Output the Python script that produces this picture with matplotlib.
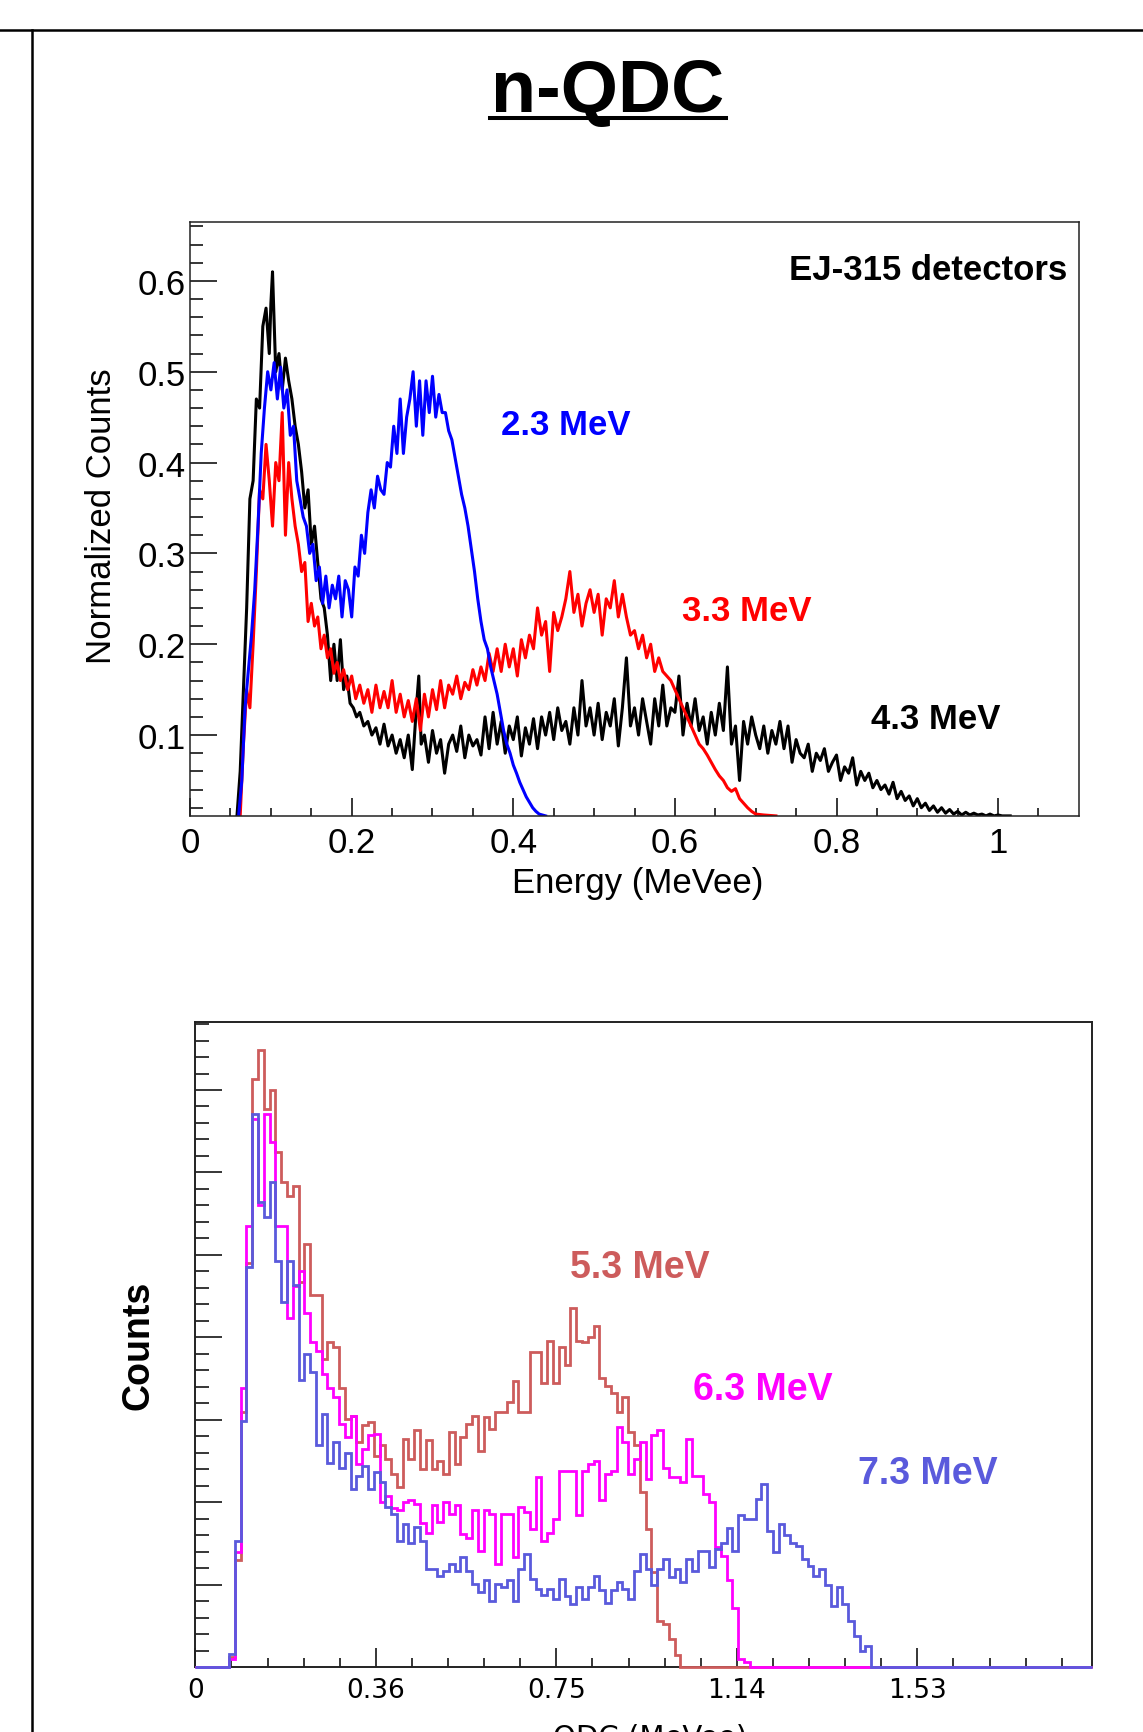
import numpy as np
import matplotlib
matplotlib.use("Agg")
import matplotlib.pyplot as plt
from matplotlib.lines import Line2D
from matplotlib.ticker import FixedLocator, FixedFormatter

# ---- top panel: normalized EJ-315 spectra (energy in MeVee) ----
blue_x = [0.060, 0.064, 0.068, 0.072, 0.076, 0.080, 0.084, 0.088, 0.092, 0.096,
          0.100, 0.104, 0.108, 0.112, 0.116, 0.120, 0.124, 0.128, 0.132, 0.136,
          0.140, 0.144, 0.148, 0.152, 0.156, 0.160, 0.164, 0.168, 0.172, 0.176,
          0.180, 0.184, 0.188, 0.192, 0.196, 0.200, 0.204, 0.208, 0.212, 0.216,
          0.220, 0.224, 0.228, 0.232, 0.236, 0.240, 0.244, 0.248, 0.252, 0.256,
          0.260, 0.264, 0.268, 0.272, 0.276, 0.280, 0.284, 0.288, 0.292, 0.296,
          0.300, 0.304, 0.308, 0.312, 0.316, 0.320, 0.324, 0.328, 0.332, 0.336,
          0.340, 0.344, 0.348, 0.352, 0.356, 0.360, 0.364, 0.368, 0.372, 0.376,
          0.380, 0.384, 0.388, 0.392, 0.396, 0.400, 0.404, 0.408, 0.412, 0.416,
          0.420, 0.424, 0.428, 0.432, 0.436, 0.440]
blue_y = [0.011, 0.05, 0.13, 0.17, 0.21, 0.26, 0.33, 0.41, 0.46, 0.50,
          0.48, 0.51, 0.47, 0.505, 0.46, 0.48, 0.43, 0.44, 0.38, 0.36,
          0.34, 0.33, 0.30, 0.31, 0.27, 0.285, 0.245, 0.275, 0.24, 0.265,
          0.25, 0.275, 0.23, 0.27, 0.26, 0.23, 0.285, 0.275, 0.32, 0.30,
          0.345, 0.37, 0.35, 0.385, 0.37, 0.365, 0.40, 0.395, 0.44, 0.41,
          0.47, 0.41, 0.45, 0.47, 0.50, 0.44, 0.49, 0.43, 0.49, 0.455,
          0.495, 0.45, 0.475, 0.455, 0.455, 0.435, 0.425, 0.405, 0.385, 0.365,
          0.35, 0.33, 0.305, 0.28, 0.25, 0.225, 0.205, 0.195, 0.175, 0.16,
          0.145, 0.125, 0.105, 0.09, 0.08, 0.067, 0.058, 0.048, 0.04, 0.032,
          0.026, 0.02, 0.016, 0.013, 0.012, 0.011]

red_x = [0.062, 0.066, 0.070, 0.074, 0.078, 0.082, 0.086, 0.090, 0.094, 0.098,
         0.102, 0.106, 0.110, 0.114, 0.118, 0.122, 0.126, 0.130, 0.134, 0.138,
         0.142, 0.146, 0.150, 0.154, 0.158, 0.162, 0.166, 0.170, 0.174, 0.178,
         0.182, 0.186, 0.190, 0.195, 0.200, 0.205, 0.210, 0.215, 0.220, 0.225,
         0.230, 0.235, 0.240, 0.245, 0.250, 0.255, 0.260, 0.265, 0.270, 0.275,
         0.280, 0.285, 0.290, 0.295, 0.300, 0.305, 0.310, 0.315, 0.320, 0.325,
         0.330, 0.335, 0.340, 0.345, 0.350, 0.355, 0.360, 0.365, 0.370, 0.375,
         0.380, 0.385, 0.390, 0.395, 0.400, 0.405, 0.410, 0.415, 0.420, 0.425,
         0.430, 0.435, 0.440, 0.445, 0.450, 0.455, 0.460, 0.465, 0.470, 0.475,
         0.480, 0.485, 0.490, 0.495, 0.500, 0.505, 0.510, 0.515, 0.520, 0.525,
         0.530, 0.535, 0.540, 0.545, 0.550, 0.555, 0.560, 0.565, 0.570, 0.575,
         0.580, 0.585, 0.590, 0.595, 0.600, 0.605, 0.610, 0.615, 0.620, 0.625,
         0.630, 0.635, 0.640, 0.645, 0.650, 0.655, 0.660, 0.665, 0.670, 0.675,
         0.680, 0.685, 0.690, 0.695, 0.700, 0.710, 0.725]
red_y = [0.011, 0.09, 0.15, 0.13, 0.20, 0.28, 0.37, 0.36, 0.42, 0.38,
         0.33, 0.40, 0.38, 0.455, 0.32, 0.40, 0.36, 0.33, 0.31, 0.28,
         0.29, 0.225, 0.245, 0.22, 0.23, 0.195, 0.21, 0.185, 0.195, 0.168,
         0.18, 0.16, 0.172, 0.15, 0.165, 0.14, 0.155, 0.135, 0.15, 0.125,
         0.155, 0.13, 0.148, 0.13, 0.16, 0.125, 0.145, 0.12, 0.138, 0.115,
         0.14, 0.105, 0.145, 0.12, 0.15, 0.128, 0.16, 0.13, 0.155, 0.145,
         0.165, 0.14, 0.158, 0.15, 0.172, 0.155, 0.175, 0.16, 0.19, 0.17,
         0.195, 0.17, 0.20, 0.175, 0.195, 0.165, 0.205, 0.185, 0.21, 0.195,
         0.24, 0.21, 0.225, 0.17, 0.235, 0.215, 0.23, 0.25, 0.28, 0.235,
         0.255, 0.22, 0.245, 0.26, 0.235, 0.255, 0.21, 0.25, 0.24, 0.27,
         0.23, 0.255, 0.23, 0.21, 0.215, 0.195, 0.21, 0.185, 0.20, 0.17,
         0.185, 0.17, 0.165, 0.16, 0.15, 0.14, 0.13, 0.12, 0.11, 0.10,
         0.09, 0.085, 0.078, 0.07, 0.062, 0.055, 0.05, 0.042, 0.038, 0.041,
         0.03, 0.025, 0.02, 0.016, 0.013, 0.012, 0.011]

black_x = [0.058, 0.062, 0.066, 0.070, 0.074, 0.078, 0.082, 0.086, 0.090, 0.094,
           0.098, 0.100, 0.102, 0.106, 0.110, 0.114, 0.118, 0.122, 0.126, 0.130,
           0.134, 0.138, 0.142, 0.146, 0.150, 0.154, 0.158, 0.162, 0.166, 0.170,
           0.174, 0.178, 0.182, 0.186, 0.190, 0.194, 0.198, 0.202, 0.206, 0.210,
           0.215, 0.220, 0.225, 0.230, 0.235, 0.240, 0.245, 0.250, 0.255, 0.260,
           0.265, 0.270, 0.275, 0.280, 0.283, 0.286, 0.290, 0.295, 0.300, 0.305,
           0.310, 0.315, 0.320, 0.325, 0.330, 0.335, 0.340, 0.345, 0.350, 0.355,
           0.360, 0.365, 0.370, 0.375, 0.380, 0.385, 0.390, 0.395, 0.400, 0.405,
           0.410, 0.415, 0.420, 0.425, 0.430, 0.435, 0.440, 0.445, 0.450, 0.455,
           0.460, 0.465, 0.470, 0.475, 0.480, 0.485, 0.490, 0.495, 0.500, 0.505,
           0.510, 0.515, 0.520, 0.525, 0.530, 0.535, 0.540, 0.545, 0.550, 0.555,
           0.560, 0.565, 0.570, 0.575, 0.580, 0.585, 0.590, 0.595, 0.600, 0.605,
           0.610, 0.615, 0.620, 0.625, 0.630, 0.635, 0.640, 0.645, 0.650, 0.655,
           0.660, 0.665, 0.670, 0.675, 0.680, 0.685, 0.690, 0.695, 0.700, 0.705,
           0.710, 0.715, 0.720, 0.725, 0.730, 0.735, 0.740, 0.745, 0.750, 0.755,
           0.760, 0.765, 0.770, 0.775, 0.780, 0.785, 0.790, 0.795, 0.800, 0.805,
           0.810, 0.815, 0.820, 0.825, 0.830, 0.835, 0.840, 0.845, 0.850, 0.855,
           0.860, 0.865, 0.870, 0.875, 0.880, 0.885, 0.890, 0.895, 0.900, 0.905,
           0.910, 0.915, 0.920, 0.925, 0.930, 0.935, 0.940, 0.945, 0.950, 0.955,
           0.960, 0.965, 0.970, 0.975, 0.980, 0.985, 0.990, 0.995, 1.000, 1.005,
           1.015]
black_y = [0.011, 0.06, 0.15, 0.24, 0.36, 0.38, 0.47, 0.46, 0.55, 0.57,
           0.52, 0.575, 0.61, 0.50, 0.52, 0.48, 0.515, 0.49, 0.47, 0.44,
           0.42, 0.39, 0.35, 0.37, 0.31, 0.33, 0.29, 0.25, 0.24, 0.21,
           0.16, 0.20, 0.16, 0.205, 0.15, 0.165, 0.135, 0.13, 0.12, 0.125,
           0.11, 0.115, 0.10, 0.108, 0.09, 0.112, 0.088, 0.10, 0.08, 0.095,
           0.075, 0.10, 0.062, 0.13, 0.165, 0.09, 0.10, 0.07, 0.105, 0.08,
           0.095, 0.058, 0.09, 0.10, 0.082, 0.11, 0.075, 0.10, 0.088, 0.095,
           0.078, 0.12, 0.085, 0.125, 0.09, 0.115, 0.08, 0.11, 0.095, 0.12,
           0.077, 0.108, 0.09, 0.118, 0.085, 0.12, 0.10, 0.125, 0.095, 0.13,
           0.105, 0.115, 0.09, 0.13, 0.10, 0.16, 0.11, 0.13, 0.10, 0.135,
           0.095, 0.125, 0.11, 0.14, 0.088, 0.13, 0.185, 0.11, 0.13, 0.10,
           0.14, 0.115, 0.09, 0.14, 0.11, 0.155, 0.11, 0.13, 0.125, 0.165,
           0.10, 0.135, 0.11, 0.14, 0.105, 0.12, 0.09, 0.125, 0.10, 0.135,
           0.105, 0.175, 0.09, 0.11, 0.05, 0.115, 0.09, 0.12, 0.10, 0.085,
           0.11, 0.08, 0.105, 0.09, 0.115, 0.085, 0.11, 0.07, 0.095, 0.08,
           0.075, 0.09, 0.06, 0.08, 0.072, 0.085, 0.06, 0.07, 0.078, 0.05,
           0.065, 0.058, 0.075, 0.045, 0.06, 0.05, 0.058, 0.042, 0.05, 0.04,
           0.045, 0.035, 0.048, 0.03, 0.038, 0.028, 0.033, 0.022, 0.03, 0.02,
           0.025, 0.017, 0.022, 0.015, 0.02, 0.014, 0.018, 0.013, 0.016, 0.012,
           0.015, 0.012, 0.014, 0.012, 0.013, 0.011, 0.013, 0.011, 0.012, 0.011,
           0.011]

energy_ticks = [0.0, 0.2, 0.4, 0.6, 0.8, 1.0]
energy_labels = ["0", "0.2", "0.4", "0.6", "0.8", "1"]
norm_ticks = [0.1, 0.2, 0.3, 0.4, 0.5, 0.6]
norm_labels = ["0.1", "0.2", "0.3", "0.4", "0.5", "0.6"]

# ---- bottom panel: QDC histograms (counts per bin) ----
red_counts = [12, 130, 309, 490, 713, 748, 677, 700, 625, 589,
              571, 584, 467, 513, 451, 451, 374, 394, 388, 339,
              301, 305, 273, 293, 297, 256, 269, 252, 234, 218,
              277, 252, 287, 240, 275, 240, 250, 234, 285, 246,
              279, 295, 305, 262, 303, 289, 309, 309, 321, 347,
              309, 309, 382, 382, 345, 396, 345, 388, 366, 436,
              396, 394, 400, 414, 351, 341, 333, 309, 327, 285,
              269, 212, 167, 115, 56, 52, 34, 14]
magenta_counts = [10, 140, 339, 535, 665, 560, 671, 637, 535, 535,
                  424, 462, 481, 430, 394, 383, 355, 339, 327, 295,
                  279, 305, 246, 264, 281, 283, 200, 207, 193, 190,
                  200, 202, 198, 175, 162, 196, 176, 200, 186, 196,
                  161, 157, 190, 141, 190, 186, 125, 186, 186, 133,
                  194, 188, 167, 230, 153, 163, 180, 238, 238, 238,
                  184, 238, 246, 250, 202, 234, 238, 291, 273, 234,
                  252, 273, 228, 281, 287, 242, 230, 230, 224, 277,
                  232, 232, 210, 200, 145, 135, 105, 72, 10, 6]
blue_counts = [16, 153, 299, 485, 671, 564, 546, 588, 493, 443,
               493, 463, 348, 380, 358, 269, 307, 248, 273, 242,
               260, 216, 232, 244, 216, 236, 224, 194, 186, 153,
               174, 151, 170, 153, 119, 119, 111, 117, 125, 117,
               133, 117, 101, 91, 105, 80, 101, 97, 105, 80,
               119, 137, 107, 95, 87, 95, 83, 107, 86, 76,
               97, 82, 97, 111, 93, 78, 93, 103, 95, 83,
               117, 137, 119, 99, 119, 131, 109, 119, 103, 131,
               117, 141, 141, 121, 143, 150, 169, 141, 184, 180,
               180, 204, 222, 165, 139, 174, 160, 151, 147, 131,
               123, 111, 119, 99, 74, 97, 76, 56, 38, 20, 26]

qdc_first_edge = 0.043
qdc_bin_width = 0.0125
qdc_ticks = [-0.03, 0.36, 0.75, 1.14, 1.53]
qdc_labels = ["0", "0.36", "0.75", "1.14", "1.53"]

W, H = 1143, 1733
fig = plt.figure(figsize=(W / 100, H / 100), dpi=100)


def fx(px):
    return px / W


def fy(py):
    return 1 - py / H


# page frame lines
fig.add_artist(Line2D([0, 1], [fy(30.5), fy(30.5)], color="black", lw=1.8))
fig.add_artist(Line2D([fx(32.4), fx(32.4)], [fy(30.5), 0], color="black", lw=1.8))

# title with underline
fig.text(fx(607.5), fy(112), "n-QDC", ha="center", va="baseline",
         fontsize=53, fontweight="bold", family="Liberation Sans")
fig.add_artist(Line2D([fx(490), fx(726)], [fy(118.7), fy(118.7)], color="black", lw=2.9))

# ---------------- top panel ----------------
ax1 = fig.add_axes([fx(190.1), fy(816.9), fx(888.8), 593.6 / H])
ax1.plot(black_x, black_y, color="black", lw=2.2)
ax1.plot(red_x, red_y, color="#ff0000", lw=2.2)
ax1.plot(blue_x, blue_y, color="#0000ff", lw=2.2)
ax1.set_xlim(0, 1.1)
ax1.set_ylim(0.011, 0.6645)

ax1.xaxis.set_major_locator(FixedLocator(energy_ticks))
ax1.xaxis.set_major_formatter(FixedFormatter(energy_labels))
ax1.xaxis.set_minor_locator(FixedLocator(np.arange(0.05, 1.1, 0.05)))
ax1.yaxis.set_major_locator(FixedLocator(norm_ticks))
ax1.yaxis.set_major_formatter(FixedFormatter(norm_labels))
ax1.yaxis.set_minor_locator(FixedLocator(np.arange(0.02, 0.665, 0.02)))
ax1.tick_params(axis="both", which="both", direction="in", width=1.1, color="black")
ax1.tick_params(axis="x", which="major", length=12.8, pad=7, labelsize=25)
ax1.tick_params(axis="x", which="minor", length=5.8)
ax1.tick_params(axis="y", which="major", length=19.2, pad=3, labelsize=25)
ax1.tick_params(axis="y", which="minor", length=9.6)
for lab in ax1.get_xticklabels() + ax1.get_yticklabels():
    lab.set_family("Liberation Sans")
for sp in ax1.spines.values():
    sp.set_linewidth(1.1)
    sp.set_color("#222222")

fig.text(fx(101.7), fy(516), "Normalized Counts", rotation=90, ha="center", va="center",
         fontsize=25, family="Liberation Sans")
fig.text(fx(638), fy(884), "Energy (MeVee)", ha="center", va="center",
         fontsize=25, family="Liberation Sans")

bold = dict(fontsize=25, fontweight="bold", family="Liberation Sans", va="center")
ax1.text(1.085, 0.612, "EJ-315 detectors", ha="right", color="black", **bold)
ax1.text(0.385, 0.442, "2.3 MeV", ha="left", color="#0000ff", **bold)
ax1.text(0.609, 0.2375, "3.3 MeV", ha="left", color="#ff0000", **bold)
ax1.text(0.843, 0.118, "4.3 MeV", ha="left", color="black", **bold)

# ---------------- bottom panel ----------------
ax2 = fig.add_axes([fx(195.3), fy(1668), fx(896.3), 645.4 / H])
x_lo, x_hi = -0.03, 1.9066
ax2.set_xlim(x_lo, x_hi)
ax2.set_ylim(0, 783)

hist_colors = ["#cd5c5c", "#ff00ff", "#5a5adc"]
for counts, col in zip([red_counts, magenta_counts, blue_counts], hist_colors):
    edges = qdc_first_edge + qdc_bin_width * np.arange(len(counts) + 1)
    edges = np.concatenate([[x_lo], edges, [x_hi]])
    vals = np.concatenate([[0], counts, [0]])
    ax2.stairs(vals, edges, color=col, lw=2.0, zorder=3, clip_on=False)

ax2.xaxis.set_major_locator(FixedLocator(qdc_ticks))
ax2.xaxis.set_major_formatter(FixedFormatter(qdc_labels))
ax2.xaxis.set_minor_locator(FixedLocator(0.048 + 0.078 * np.arange(24)))
ax2.yaxis.set_major_locator(FixedLocator(np.arange(0, 800, 100)))
ax2.yaxis.set_minor_locator(FixedLocator(np.arange(0, 790, 20)))
ax2.yaxis.set_major_formatter(FixedFormatter([""] * 8))
ax2.tick_params(axis="both", which="both", direction="in", width=1.1, color="black")
ax2.tick_params(axis="x", which="major", length=13.7, pad=7, labelsize=19)
ax2.tick_params(axis="x", which="minor", length=6.5)
ax2.tick_params(axis="y", which="major", length=19.4, labelleft=False)
ax2.tick_params(axis="y", which="minor", length=10)
for lab in ax2.get_xticklabels():
    lab.set_family("DejaVu Sans")
for sp in ax2.spines.values():
    sp.set_linewidth(1.4)
    sp.set_color("#222222")

fig.text(fx(138), fy(1345), "Counts", rotation=90, ha="center", va="center",
         fontsize=27, fontweight="bold", family="Liberation Sans")
# axis title sits at the page's lower edge, so only its upper part shows
fig.text(fx(650), fy(1724), "QDC (MeVee)", ha="center", va="top",
         fontsize=21, family="DejaVu Sans")

lbl = dict(fontsize=27, fontweight="bold", family="Liberation Sans", va="center", ha="left")
ax2.text(0.7796, 485, "5.3 MeV", color="#cd5c5c", **lbl)
ax2.text(1.046, 337, "6.3 MeV", color="#ff00ff", **lbl)
ax2.text(1.402, 235, "7.3 MeV", color="#5a5adc", **lbl)

fig.savefig("out.png", dpi=100)
